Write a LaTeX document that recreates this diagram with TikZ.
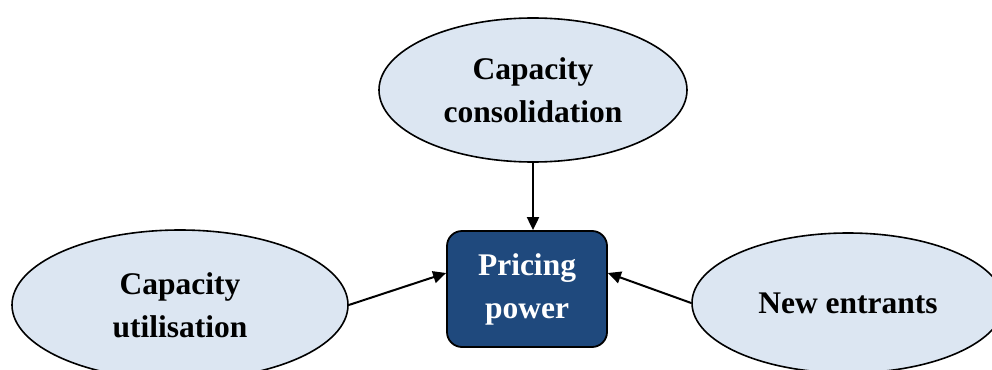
\documentclass[tikz,border=0pt]{standalone}
\usepackage{fontspec}
\setmainfont{Liberation Serif}
\usetikzlibrary{shapes.geometric,arrows.meta}
\definecolor{ovalfill}{HTML}{DCE6F2}
\definecolor{boxfill}{HTML}{1F497D}
\begin{document}
\begin{tikzpicture}[x=1pt,y=-1pt,
  oval/.style={ellipse,draw=black,line width=1.6pt,fill=ovalfill,inner sep=0pt,
    align=center,font=\fontsize{31.5}{43}\selectfont\bfseries},
  corebox/.style={rectangle,rounded corners=15pt,draw=black,line width=1.8pt,fill=boxfill,
    text=white,align=center,minimum width=160pt,minimum height=116pt,
    font=\fontsize{31.5}{43}\selectfont\bfseries},
  link/.style={line width=2pt,-{Triangle[length=13pt,width=12pt]}}]
\useasboundingbox (0,0) rectangle (992,369);
\node[oval,minimum width=308pt,minimum height=144pt] (cons) at (533,90) {Capacity\\consolidation};
\node[oval,minimum width=336pt,minimum height=150pt] (util) at (180,305) {Capacity\\utilisation};
\node[oval,minimum width=312pt,minimum height=140pt] (new) at (848,303) {New entrants};
\node[corebox] (price) at (527,289) {Pricing\\power};
\draw[link] (cons.south) -- (cons.south |- price.north);
\draw[link] (util.east) -- ([yshift=16pt]price.west);
\draw[link] (new.west) -- ([yshift=16pt]price.east);
\end{tikzpicture}
\end{document}
